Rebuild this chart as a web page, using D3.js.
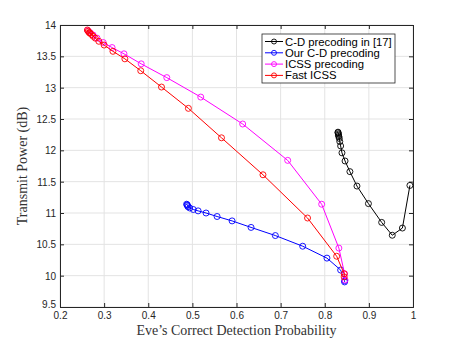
<!DOCTYPE html>
<html>
<head>
<meta charset="utf-8">
<script src="https://cdn.jsdelivr.net/npm/d3@7"></script>
<style>
  body { margin: 0; background: #fff; }
  text { font-family: "Liberation Sans", Arial, sans-serif; }
</style>
</head>
<body>
<div id="chart"></div>
<script>
// series: [probability, power dB]
var cdRef = [
  [0.830, 12.29], [0.830, 12.28], [0.831, 12.26], [0.831, 12.24], [0.832, 12.22],
  [0.833, 12.19], [0.834, 12.14], [0.836, 12.07], [0.839, 11.96], [0.846, 11.83],
  [0.857, 11.66], [0.873, 11.43], [0.899, 11.15], [0.929, 10.85], [0.953, 10.645],
  [0.976, 10.76], [0.993, 11.44]
];
var ourCd = [
  [0.487, 11.14], [0.488, 11.13], [0.489, 11.12], [0.490, 11.10], [0.494, 11.08],
  [0.502, 11.056], [0.513, 11.034], [0.531, 11.0], [0.556, 10.944], [0.590, 10.874],
  [0.633, 10.77], [0.688, 10.64], [0.750, 10.47], [0.805, 10.28], [0.836, 10.09],
  [0.845, 9.92], [0.845, 9.90]
];
var icss = [
  [0.263, 13.91], [0.268, 13.88], [0.275, 13.84], [0.284, 13.79], [0.298, 13.72],
  [0.318, 13.64], [0.345, 13.54], [0.384, 13.38], [0.442, 13.16], [0.519, 12.85],
  [0.614, 12.42], [0.716, 11.84], [0.793, 11.14], [0.832, 10.44], [0.845, 10.03],
  [0.846, 9.93]
];
var fastIcss = [
  [0.262, 13.92], [0.264, 13.90], [0.266, 13.88], [0.268, 13.87], [0.271, 13.85],
  [0.275, 13.82], [0.280, 13.79], [0.288, 13.74], [0.300, 13.68], [0.320, 13.58],
  [0.347, 13.46], [0.383, 13.27], [0.430, 13.01], [0.491, 12.67], [0.566, 12.20],
  [0.660, 11.61], [0.761, 10.92], [0.827, 10.31], [0.844, 10.03], [0.844, 9.98]
];
var seriesNames = ["C-D precoding in [17]", "Our C-D precoding", "ICSS precoding", "Fast ICSS"];
var seriesColors = ["#000000", "#0000ff", "#ff00ff", "#ff0000"];
var xTicks = [0.2, 0.3, 0.4, 0.5, 0.6, 0.7, 0.8, 0.9, 1];
var yTicks = [9.5, 10, 10.5, 11, 11.5, 12, 12.5, 13, 13.5, 14];

var allSeries = [cdRef, ourCd, icss, fastIcss];

var width = 457, height = 346;
var margin = { top: 25, right: 44, bottom: 39, left: 60 };
var w = width - margin.left - margin.right;
var h = height - margin.top - margin.bottom;

var svg = d3.select('#chart').append('svg')
  .attr('width', width)
  .attr('height', height);

var g = svg.append('g')
  .attr('transform', 'translate(' + margin.left + ',' + margin.top + ')');

var x = d3.scaleLinear().domain([0.2, 1]).range([0, w]);
var y = d3.scaleLinear().domain([9.5, 14]).range([h, 0]);

// grid
g.append('g').selectAll('line.vx').data(xTicks).enter().append('line')
  .attr('x1', d => x(d)).attr('x2', d => x(d))
  .attr('y1', 0).attr('y2', h)
  .attr('stroke', '#e3e3e3').attr('stroke-width', 1);
g.append('g').selectAll('line.hy').data(yTicks).enter().append('line')
  .attr('y1', d => y(d)).attr('y2', d => y(d))
  .attr('x1', 0).attr('x2', w)
  .attr('stroke', '#e3e3e3').attr('stroke-width', 1);

// axes, MATLAB style: ticks inside, box all round
var axisColor = '#262626';
var xAxis = d3.axisBottom(x).tickValues(xTicks).tickSize(-4).tickPadding(5)
  .tickFormat(d3.format('~g'));
var yAxis = d3.axisLeft(y).tickValues(yTicks).tickSize(-4).tickPadding(4)
  .tickFormat(d3.format('~g'));

var gx = g.append('g').attr('transform', 'translate(0,' + h + ')').call(xAxis);
var gy = g.append('g').call(yAxis);
g.append('g').call(d3.axisTop(x).tickValues(xTicks).tickSize(-4).tickFormat(''));
g.append('g').attr('transform', 'translate(' + w + ',0)')
  .call(d3.axisRight(y).tickValues(yTicks).tickSize(-4).tickFormat(''));

g.selectAll('.domain').attr('stroke', axisColor);
g.selectAll('.tick line').attr('stroke', axisColor);
g.selectAll('.tick text').attr('fill', axisColor).style('font-size', '10px')
  .style('font-family', '"Liberation Sans", Arial, sans-serif');
gy.selectAll('.tick text').attr('dy', '0.35em');
gy.selectAll('.tick').filter(d => d === 9.5).select('text').attr('dy', '0.05em');

// lines and markers
var line = d3.line().x(d => x(d[0])).y(d => y(d[1]));

allSeries.forEach(function(data, i) {
  var c = seriesColors[i];
  g.append('path').datum(data)
    .attr('d', line)
    .attr('fill', 'none')
    .attr('stroke', c)
    .attr('stroke-width', 1);
  g.append('g').selectAll('circle').data(data).enter().append('circle')
    .attr('cx', d => x(d[0]))
    .attr('cy', d => y(d[1]))
    .attr('r', 3)
    .attr('fill', 'none')
    .attr('stroke', c)
    .attr('stroke-width', 0.9);
});

// axis labels
svg.append('text')
  .attr('x', margin.left + w / 2)
  .attr('y', 335)
  .attr('text-anchor', 'middle')
  .style('font-family', '"Liberation Serif", "DejaVu Serif", serif')
  .style('font-size', '14px')
  .attr('fill', '#333')
  .text('Eve\u2019s Correct Detection Probability');

svg.append('text')
  .attr('transform', 'translate(27,' + (margin.top + h / 2) + ') rotate(-90)')
  .attr('text-anchor', 'middle')
  .style('font-family', '"Liberation Serif", "DejaVu Serif", serif')
  .style('font-size', '14px')
  .attr('fill', '#333')
  .text('Transmit Power (dB)');

// legend
var lg = svg.append('g').attr('transform', 'translate(262,34)');
lg.append('rect')
  .attr('width', 133).attr('height', 49)
  .attr('fill', '#fff').attr('stroke', axisColor).attr('stroke-width', 0.8);
seriesNames.forEach(function(name, i) {
  var yy = 7.5 + i * 11.3;
  var c = seriesColors[i];
  lg.append('line').attr('x1', 3).attr('x2', 21).attr('y1', yy).attr('y2', yy)
    .attr('stroke', c).attr('stroke-width', 1);
  lg.append('circle').attr('cx', 12).attr('cy', yy).attr('r', 2.5)
    .attr('fill', 'none').attr('stroke', c).attr('stroke-width', 0.9);
  lg.append('text').attr('x', 23).attr('y', yy + 4)
    .style('font-size', '11.3px').attr('fill', '#000')
    .text(name);
});
</script>
</body>
</html>
